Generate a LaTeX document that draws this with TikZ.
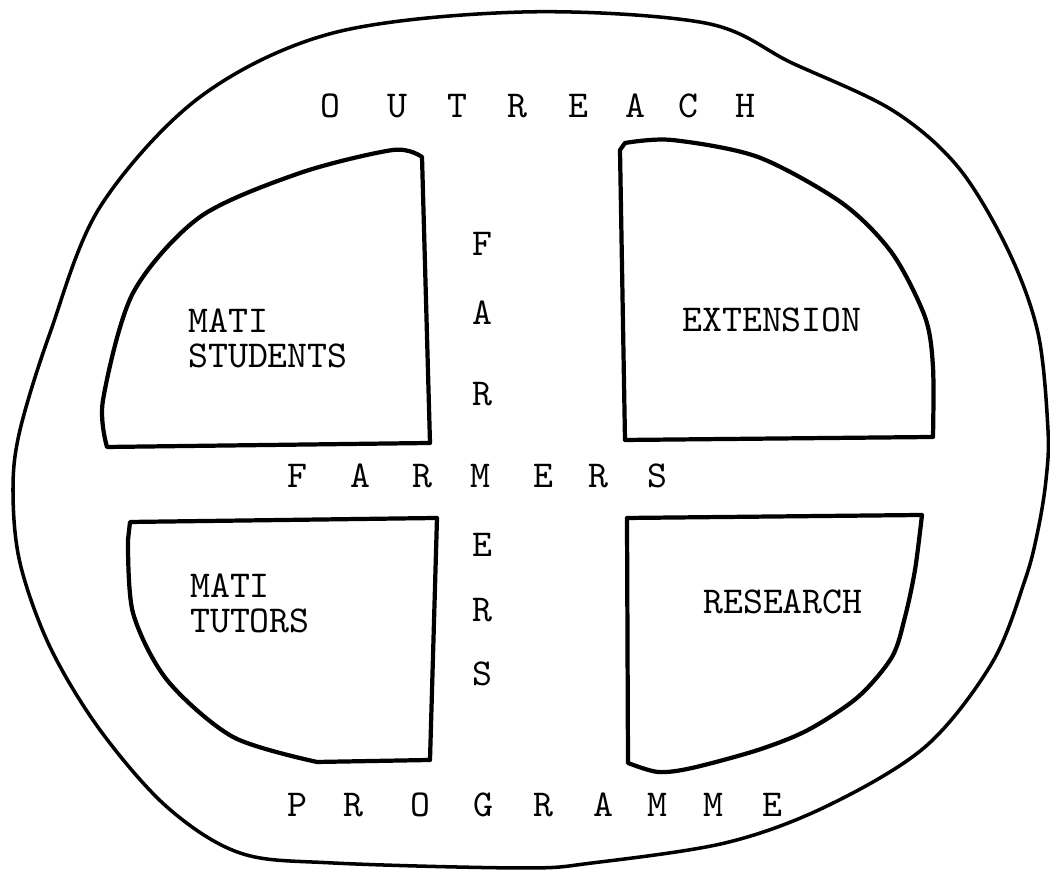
\documentclass[tikz,border=0pt]{standalone}
\usepackage{fontspec}

\begin{document}
\begin{tikzpicture}[x=0.01cm, y=-0.01cm, ring/.style={draw,line width=1pt,line join=round}, quad/.style={draw,line width=1.2pt,line join=round}, lbl/.style={font=\ttfamily\fontsize{10.8}{10}\selectfont,inner sep=0pt,align=left}]
\useasboundingbox[fill=white] (0,0) rectangle (1050,871);
% outer outline
\draw[ring] plot[smooth cycle,tension=0.55] coordinates {(523,12) (705,23) (792,63) (892,110) (958,167) (1008,250) (1038,333) (1048,430) (1046,480) (1038,530) (1025,580) (992,663) (925,747) (825,807) (725,843) (592,863) (523,868) (333,863) (240,853) (167,807) (100,730) (50,647) (20,563) (13,490) (20,430) (50,333) (100,207) (200,97) (333,33)};
% the four fields
\draw[quad] (422,157) -- (430,443) -- (107,447) -- plot[smooth] coordinates {(107,447) (103,400) (133,293) (200,217) (300,173) (393,150) (422,157)} -- cycle;
\draw[quad] (620,150) -- (625,440) -- (933,437) -- plot[smooth] coordinates {(933,437) (933,367) (925,317) (892,253) (842,203) (758,157) (672,140) (625,143)} -- cycle;
\draw[quad] (130,522) -- (437,518) -- (430,760) -- (317,762) -- plot[smooth] coordinates {(317,762) (233,737) (167,680) (133,613) (128,540)} -- cycle;
\draw[quad] (627,518) -- (922,515) -- plot[smooth] coordinates {(922,515) (915,570) (905,617) (892,657) (858,697) (808,730) (758,750) (692,768) (658,772) (628,763)} -- cycle;
\node[lbl] (students) at (268,338) {MATI\\STUDENTS};
\node[lbl] (extension) at (772,320) {EXTENSION};
\node[lbl] (tutors) at (250,603) {MATI\\TUTORS};
\node[lbl] (research) at (783,602) {RESEARCH};
% spaced words
\foreach \c/\x [count=\i] in {O/330,U/397,T/457,R/517,E/578,A/635,C/688,H/745}
  \node[lbl] (out\i) at (\x,106) {\c};
\foreach \c/\x [count=\i] in {F/297,A/360,R/422,M/480,E/543,R/598,S/657}
  \node[lbl] (farmh\i) at (\x,476) {\c};
\foreach \c/\y [count=\i] in {F/244,A/313,R/394,E/545,R/610,S/674}
  \node[lbl] (farmv\i) at (482,\y) {\c};
\foreach \c/\x [count=\i] in {P/297,R/353,O/420,G/483,R/543,A/603,M/657,M/713,E/772}
  \node[lbl] (prog\i) at (\x,805) {\c};
\end{tikzpicture}
\end{document}
